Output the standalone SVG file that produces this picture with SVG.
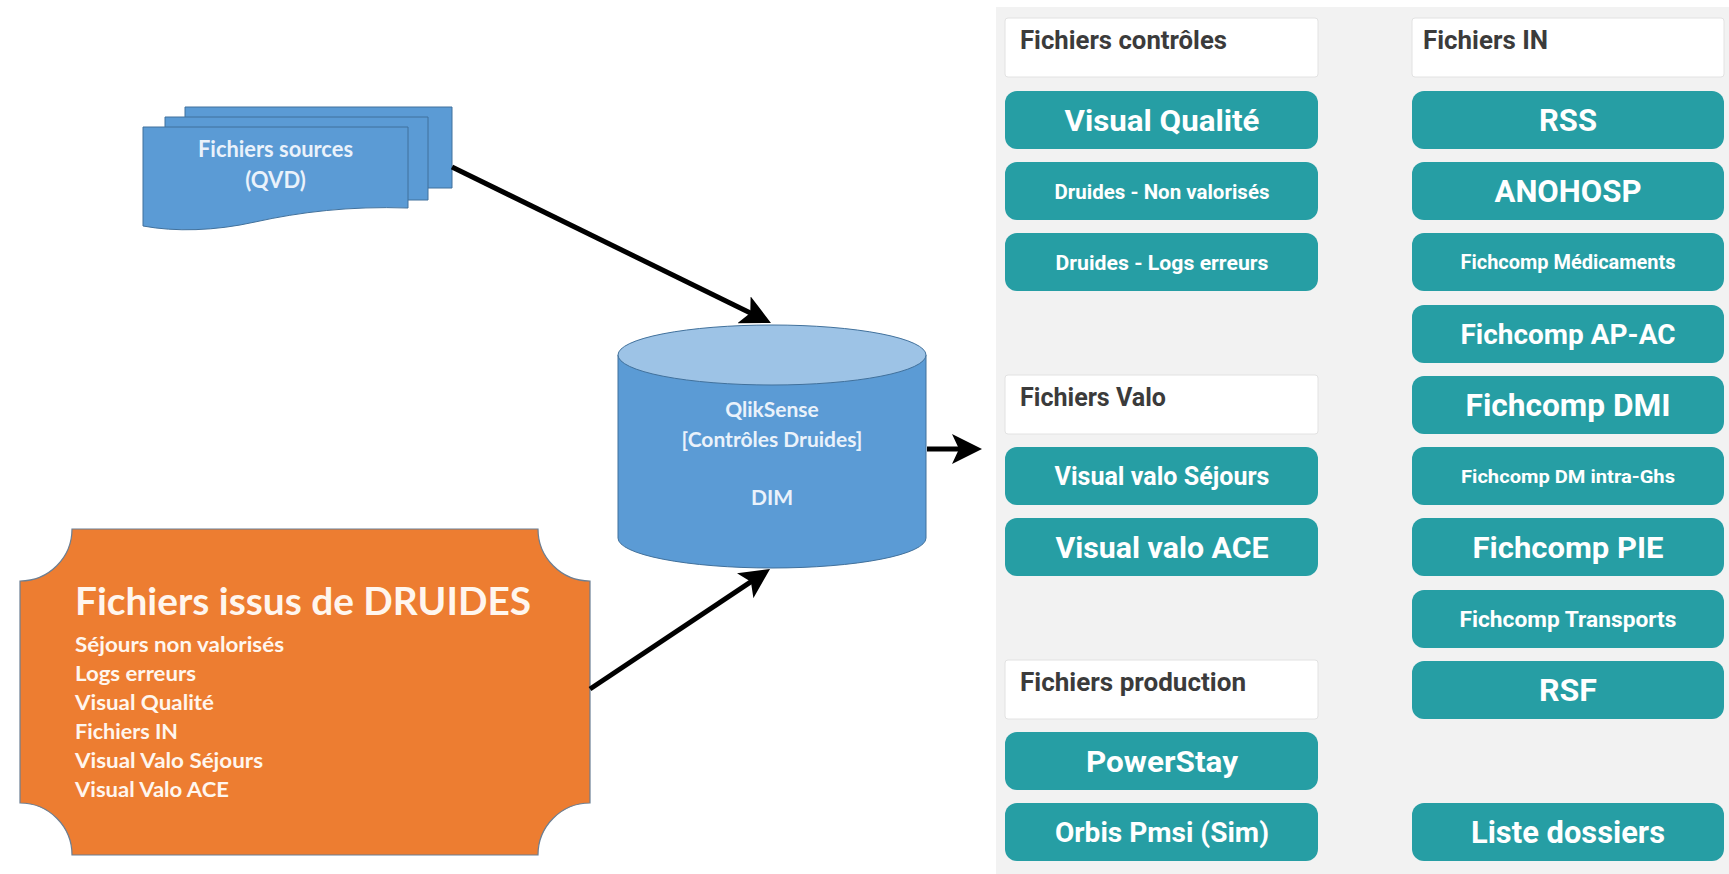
<svg xmlns="http://www.w3.org/2000/svg" width="1729" height="874" viewBox="0 0 1729 874">
<defs>
<style>
.shape{fill:#5b9bd5;stroke:#41719c;stroke-width:1}
.ltxt{font-family:Lato,"Liberation Sans",sans-serif;font-weight:700;fill:#eaf2fb}
.otxt{font-family:Lato,"Liberation Sans",sans-serif;font-weight:700;fill:#fff6ee}
.hdr{fill:#ffffff;stroke:#e2e2e2;stroke-width:1}
.htxt{font-family:Roboto,"Liberation Sans",sans-serif;font-weight:700;font-size:25px;fill:#3b3b3b}
.btn{fill:#269ea4}
.btxt{font-family:Roboto,"Liberation Sans",sans-serif;font-weight:700;fill:#ffffff;text-anchor:middle}
.conn{stroke:#000;stroke-width:5;fill:none;marker-end:url(#head)}
</style>
<marker id="head" markerUnits="userSpaceOnUse" markerWidth="30" markerHeight="30" viewBox="0 0 30 30" refX="10" refY="15" orient="auto">
<path d="M0,0 L30,15 L0,30 L7,15 Z" fill="#000"/>
</marker>
</defs>
<rect x="0" y="0" width="1729" height="874" fill="#ffffff"/>
<rect id="panel" x="996" y="7" width="733" height="867" fill="#f2f2f2"/>

<g id="sources">
<path class="shape" d="M185,107 H452 V188 H185 Z"/>
<path class="shape" d="M165,117 H428 V200 H165 Z"/>
<path class="shape" d="M143,127 H408 V208 C350,206 300,212 255,222 C215,231 175,232 143,226 Z"/>
<text class="ltxt" x="275.5" y="157" font-size="22" text-anchor="middle" textLength="155" lengthAdjust="spacingAndGlyphs">Fichiers sources</text>
<text class="ltxt" x="275.5" y="188" font-size="22" text-anchor="middle">(QVD)</text>
</g>

<g id="qliksense">
<path class="shape" d="M618,355 V538 A154,30 0 0 0 926,538 V355 Z"/>
<ellipse cx="772" cy="355" rx="154" ry="30" fill="#9dc3e6" stroke="#41719c" stroke-width="1"/>
<text class="ltxt" x="772" y="417" font-size="21" text-anchor="middle">QlikSense</text>
<text class="ltxt" x="772" y="447" font-size="21" text-anchor="middle">[Contrôles Druides]</text>
<text class="ltxt" x="772" y="505" font-size="21" text-anchor="middle">DIM</text>
</g>

<g id="druides">
<path d="M72,529 H538 A52,52 0 0 0 590,581 V803 A52,52 0 0 0 538,855 H72 A52,52 0 0 0 20,803 V581 A52,52 0 0 0 72,529 Z" fill="#ed7d31" stroke="#6b7f94" stroke-width="1.2"/>
<text class="otxt" x="75" y="615" font-size="38" textLength="456" lengthAdjust="spacingAndGlyphs">Fichiers issus de DRUIDES</text>
<text class="otxt" x="75" y="652" font-size="21" textLength="209" lengthAdjust="spacingAndGlyphs">Séjours non valorisés</text>
<text class="otxt" x="75" y="681" font-size="21" textLength="121" lengthAdjust="spacingAndGlyphs">Logs erreurs</text>
<text class="otxt" x="75" y="710" font-size="21" textLength="139" lengthAdjust="spacingAndGlyphs">Visual Qualité</text>
<text class="otxt" x="75" y="739" font-size="21" textLength="103" lengthAdjust="spacingAndGlyphs">Fichiers IN</text>
<text class="otxt" x="75" y="768" font-size="21" textLength="188" lengthAdjust="spacingAndGlyphs">Visual Valo Séjours</text>
<text class="otxt" x="75" y="797" font-size="21" textLength="154" lengthAdjust="spacingAndGlyphs">Visual Valo ACE</text>
</g>

<g id="connectors">
<line class="conn" x1="452" y1="167" x2="753" y2="314.2"/>
<line class="conn" x1="590" y1="689" x2="753.4" y2="580.1"/>
<line class="conn" x1="927" y1="449" x2="962" y2="449"/>
</g>

<g id="hdr-controles">
<rect class="hdr" x="1005" y="18" width="313" height="59" rx="3"/>
<text class="htxt" x="1020" y="49" textLength="207" lengthAdjust="spacingAndGlyphs">Fichiers contrôles</text>
</g>
<g id="btn-visual-qualite">
<rect class="btn" x="1005" y="91" width="313" height="58" rx="12"/>
<text class="btxt" x="1162" y="131" font-size="30" textLength="195" lengthAdjust="spacingAndGlyphs">Visual Qualité</text>
</g>
<g id="btn-druides-nv">
<rect class="btn" x="1005" y="162" width="313" height="58" rx="12"/>
<text class="btxt" x="1162" y="199" font-size="21" textLength="215" lengthAdjust="spacingAndGlyphs">Druides - Non valorisés</text>
</g>
<g id="btn-druides-logs">
<rect class="btn" x="1005" y="233" width="313" height="58" rx="12"/>
<text class="btxt" x="1162" y="270" font-size="21" textLength="213" lengthAdjust="spacingAndGlyphs">Druides - Logs erreurs</text>
</g>

<g id="hdr-valo">
<rect class="hdr" x="1005" y="375" width="313" height="59" rx="3"/>
<text class="htxt" x="1020" y="406" textLength="146" lengthAdjust="spacingAndGlyphs">Fichiers Valo</text>
</g>
<g id="btn-valo-sejours">
<rect class="btn" x="1005" y="447" width="313" height="58" rx="12"/>
<text class="btxt" x="1162" y="485" font-size="25" textLength="215" lengthAdjust="spacingAndGlyphs">Visual valo Séjours</text>
</g>
<g id="btn-valo-ace">
<rect class="btn" x="1005" y="518" width="313" height="58" rx="12"/>
<text class="btxt" x="1162" y="558" font-size="30" textLength="213" lengthAdjust="spacingAndGlyphs">Visual valo ACE</text>
</g>

<g id="hdr-production">
<rect class="hdr" x="1005" y="660" width="313" height="59" rx="3"/>
<text class="htxt" x="1020" y="691" textLength="226" lengthAdjust="spacingAndGlyphs">Fichiers production</text>
</g>
<g id="btn-powerstay">
<rect class="btn" x="1005" y="732" width="313" height="58" rx="12"/>
<text class="btxt" x="1162" y="772" font-size="30" textLength="152" lengthAdjust="spacingAndGlyphs">PowerStay</text>
</g>
<g id="btn-orbis">
<rect class="btn" x="1005" y="803" width="313" height="58" rx="12"/>
<text class="btxt" x="1162" y="842" font-size="28" textLength="214" lengthAdjust="spacingAndGlyphs">Orbis Pmsi (Sim)</text>
</g>

<g id="hdr-in">
<rect class="hdr" x="1412" y="18" width="312" height="59" rx="3"/>
<text class="htxt" x="1423" y="49" textLength="125" lengthAdjust="spacingAndGlyphs">Fichiers IN</text>
</g>
<g id="btn-rss">
<rect class="btn" x="1412" y="91" width="312" height="58" rx="12"/>
<text class="btxt" x="1568" y="131" font-size="31" textLength="58" lengthAdjust="spacingAndGlyphs">RSS</text>
</g>
<g id="btn-anohosp">
<rect class="btn" x="1412" y="162" width="312" height="58" rx="12"/>
<text class="btxt" x="1568" y="202" font-size="31" textLength="147" lengthAdjust="spacingAndGlyphs">ANOHOSP</text>
</g>
<g id="btn-medicaments">
<rect class="btn" x="1412" y="233" width="312" height="58" rx="12"/>
<text class="btxt" x="1568" y="269" font-size="20" textLength="215" lengthAdjust="spacingAndGlyphs">Fichcomp Médicaments</text>
</g>
<g id="btn-apac">
<rect class="btn" x="1412" y="305" width="312" height="58" rx="12"/>
<text class="btxt" x="1568" y="344" font-size="28" textLength="215" lengthAdjust="spacingAndGlyphs">Fichcomp AP-AC</text>
</g>
<g id="btn-dmi">
<rect class="btn" x="1412" y="376" width="312" height="58" rx="12"/>
<text class="btxt" x="1568" y="416" font-size="31" textLength="205" lengthAdjust="spacingAndGlyphs">Fichcomp DMI</text>
</g>
<g id="btn-dm-intra">
<rect class="btn" x="1412" y="447" width="312" height="58" rx="12"/>
<text class="btxt" x="1568" y="483" font-size="19" textLength="214" lengthAdjust="spacingAndGlyphs">Fichcomp DM intra-Ghs</text>
</g>
<g id="btn-pie">
<rect class="btn" x="1412" y="518" width="312" height="58" rx="12"/>
<text class="btxt" x="1568" y="558" font-size="30" textLength="191" lengthAdjust="spacingAndGlyphs">Fichcomp PIE</text>
</g>
<g id="btn-transports">
<rect class="btn" x="1412" y="590" width="312" height="58" rx="12"/>
<text class="btxt" x="1568" y="627" font-size="22" textLength="217" lengthAdjust="spacingAndGlyphs">Fichcomp Transports</text>
</g>
<g id="btn-rsf">
<rect class="btn" x="1412" y="661" width="312" height="58" rx="12"/>
<text class="btxt" x="1568" y="701" font-size="31" textLength="58" lengthAdjust="spacingAndGlyphs">RSF</text>
</g>
<g id="btn-liste">
<rect class="btn" x="1412" y="803" width="312" height="58" rx="12"/>
<text class="btxt" x="1568" y="843" font-size="31" textLength="194" lengthAdjust="spacingAndGlyphs">Liste dossiers</text>
</g>
</svg>
